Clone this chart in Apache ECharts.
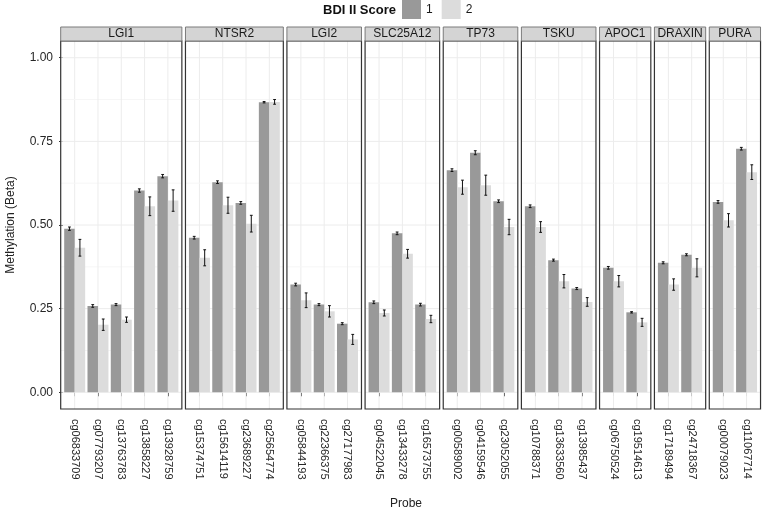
<!DOCTYPE html>
<html>
<head>
<meta charset="utf-8">
<script src="https://cdn.jsdelivr.net/npm/echarts@6/dist/echarts.min.js"></script>
<style>
  html, body { margin: 0; padding: 0; background: #fff; }
  #chart { width: 762px; height: 513px; }
</style>
</head>
<body>
<div id="chart"></div>
<script>
  // facets (genes) and their probes
  const genes = ['LGI1', 'NTSR2', 'LGI2', 'SLC25A12', 'TP73', 'TSKU', 'APOC1', 'DRAXIN', 'PURA'];
  const probes = [
    ['cg06833709', 'cg07793207', 'cg13763783', 'cg13858227', 'cg13928759'],
    ['cg15374751', 'cg15614119', 'cg23689227', 'cg25654774'],
    ['cg05844193', 'cg22366375', 'cg27177983'],
    ['cg04522045', 'cg13433278', 'cg16573755'],
    ['cg00589002', 'cg04159546', 'cg23052055'],
    ['cg10788371', 'cg13633560', 'cg13985437'],
    ['cg06750524', 'cg19514613'],
    ['cg17189494', 'cg24718367'],
    ['cg00079023', 'cg11067714']
  ];
  // mean methylation, BDI II score 1 / 2
  const score1 = [
    [0.489, 0.258, 0.262, 0.603, 0.646],
    [0.462, 0.628, 0.566, 0.867],
    [0.322, 0.262, 0.205],
    [0.269, 0.475, 0.262],
    [0.664, 0.716, 0.571],
    [0.556, 0.395, 0.310],
    [0.372, 0.239],
    [0.387, 0.411],
    [0.569, 0.728]
  ];
  const score2 = [
    [0.432, 0.202, 0.217, 0.556, 0.573],
    [0.402, 0.559, 0.504, 0.868],
    [0.275, 0.242, 0.158],
    [0.237, 0.414, 0.219],
    [0.613, 0.619, 0.494],
    [0.494, 0.332, 0.270],
    [0.332, 0.209],
    [0.322, 0.372],
    [0.514, 0.658]
  ];
  // standard errors
  const err1 = [
    [0.005, 0.004, 0.003, 0.005, 0.005],
    [0.004, 0.004, 0.004, 0.002],
    [0.004, 0.003, 0.003],
    [0.004, 0.004, 0.004],
    [0.004, 0.006, 0.004],
    [0.004, 0.003, 0.003],
    [0.004, 0.002],
    [0.003, 0.003],
    [0.004, 0.004]
  ];
  const err2 = [
    [0.025, 0.017, 0.008, 0.028, 0.032],
    [0.024, 0.024, 0.025, 0.007],
    [0.022, 0.017, 0.015],
    [0.009, 0.013, 0.011],
    [0.021, 0.030, 0.023],
    [0.016, 0.020, 0.013],
    [0.017, 0.012],
    [0.017, 0.027],
    [0.020, 0.022]
  ];
  const yTicks = [0, 0.25, 0.5, 0.75, 1];
  const yMinor = [0.125, 0.375, 0.625, 0.875];

  const FONT = '"Liberation Sans", Arial, sans-serif';
  const DARK = '#999999', LIGHT = '#dcdcdc';
  const U = 23.3, GAP = 3.6, X0 = 60.7, TOP = 41, H = 368;

  const chart = echarts.init(document.getElementById('chart'));

  const grids = [], xAxes = [], yAxes = [], series = [], graphics = [];
  let x = X0;

  function errorBars(i, means, errs, offset) {
    return {
      type: 'custom',
      xAxisIndex: i, yAxisIndex: i, z: 5,
      silent: true,
      data: means.map((m, j) => [j, m, errs[j]]),
      renderItem: function (params, api) {
        const band = api.size([1, 0])[0];
        const cx = api.coord([api.value(0), 0])[0] + offset * band;
        const m = api.value(1), e = api.value(2);
        const y1 = api.coord([0, m + e])[1];
        const y2 = api.coord([0, m - e])[1];
        const c = 1.4;
        const st = { stroke: '#111', lineWidth: 1 };
        return {
          type: 'group',
          children: [
            { type: 'line', shape: { x1: cx, y1: y1, x2: cx, y2: y2 }, style: st },
            { type: 'line', shape: { x1: cx - c, y1: y1, x2: cx + c, y2: y1 }, style: st },
            { type: 'line', shape: { x1: cx - c, y1: y2, x2: cx + c, y2: y2 }, style: st }
          ]
        };
      }
    };
  }

  genes.forEach(function (g, i) {
    const n = probes[i].length;
    const pw = (n + 0.2) * U;
    grids.push({ left: x + 0.1 * U, top: TOP, width: n * U, height: H });

    xAxes.push({
      type: 'category', gridIndex: i, data: probes[i],
      axisLine: { show: false },
      axisTick: { show: true, alignWithLabel: true, length: 4, lineStyle: { color: '#333' } },
      axisLabel: { rotate: -90, interval: 0, margin: 10, fontSize: 11, color: '#262626', fontFamily: FONT },
      splitLine: { show: false }
    });
    yAxes.push({
      type: 'value', gridIndex: i, min: -0.05, max: 1.05,
      name: i === 0 ? 'Methylation (Beta)' : '',
      nameLocation: 'middle', nameGap: 46,
      nameTextStyle: { fontSize: 12, color: '#222', fontFamily: FONT },
      axisLine: { show: false },
      axisTick: { show: i === 0, length: 4, lineStyle: { color: '#333' }, customValues: yTicks },
      axisLabel: { show: i === 0, customValues: yTicks, margin: 10, fontSize: 12, color: '#262626',
        fontFamily: FONT, formatter: v => v.toFixed(2) },
      splitLine: { show: false }
    });

    // background grid lines (major/minor horizontal, vertical at probes)
    series.push({
      type: 'custom', xAxisIndex: i, yAxisIndex: i, z: 1, silent: true,
      data: probes[i].map((p, j) => [j, 0]),
      renderItem: function (params, api) {
        const cs = params.coordSys;
        const cx = api.coord([api.value(0), 0])[0];
        const kids = [{ type: 'line', shape: { x1: cx, y1: cs.y, x2: cx, y2: cs.y + cs.height },
          style: { stroke: '#ececec', lineWidth: 1 } }];
        if (params.dataIndex === 0) {
          const l = cs.x - 0.1 * U, r = cs.x + cs.width + 0.1 * U;
          yMinor.forEach(function (v) {
            const yy = api.coord([0, v])[1];
            kids.push({ type: 'line', shape: { x1: l, y1: yy, x2: r, y2: yy }, style: { stroke: '#f6f6f6', lineWidth: 1 } });
          });
          yTicks.forEach(function (v) {
            const yy = api.coord([0, v])[1];
            kids.push({ type: 'line', shape: { x1: l, y1: yy, x2: r, y2: yy }, style: { stroke: '#ececec', lineWidth: 1 } });
          });
        }
        return { type: 'group', children: kids };
      }
    });

    series.push({
      name: '1', type: 'bar', xAxisIndex: i, yAxisIndex: i, z: 3,
      data: score1[i], barWidth: 0.45 * U, barGap: '0%',
      itemStyle: { color: DARK }
    });
    series.push({
      name: '2', type: 'bar', xAxisIndex: i, yAxisIndex: i, z: 3,
      data: score2[i], barWidth: 0.45 * U, barGap: '0%',
      itemStyle: { color: LIGHT }
    });
    series.push(errorBars(i, score1[i], err1[i], -0.225));
    series.push(errorBars(i, score2[i], err2[i], 0.225));

    // panel border and facet strip
    graphics.push({
      type: 'rect', z: 10, silent: true,
      shape: { x: x, y: TOP, width: pw, height: H },
      style: { fill: 'none', stroke: '#333', lineWidth: 1.2 }
    });
    graphics.push({
      type: 'rect', z: 10, silent: true,
      shape: { x: x, y: 27, width: pw, height: 14 },
      style: { fill: '#d4d4d4', stroke: '#7a7a7a', lineWidth: 1 }
    });
    graphics.push({
      type: 'text', z: 11, silent: true,
      x: x + pw / 2, y: 34,
      style: { text: g, fill: '#1a1a1a', font: '12px ' + FONT, align: 'center', verticalAlign: 'middle' }
    });

    x += pw + GAP;
  });

  graphics.push({
    type: 'text', x: 406, y: 504,
    style: { text: 'Probe', fill: '#222', font: '12px ' + FONT, align: 'center', verticalAlign: 'middle' }
  });
  graphics.push({
    type: 'text', x: 396, y: 10,
    style: { text: 'BDI II Score', fill: '#111', font: 'bold 13px ' + FONT, align: 'right', verticalAlign: 'middle' }
  });

  chart.setOption({
    animation: false,
    backgroundColor: '#fff',
    legend: {
      data: ['1', '2'], left: 402, top: 0, padding: 0,
      icon: 'rect', itemWidth: 19, itemHeight: 19, itemGap: 9,
      textStyle: { fontSize: 12, color: '#1a1a1a', fontFamily: FONT }
    },
    grid: grids,
    xAxis: xAxes,
    yAxis: yAxes,
    series: series,
    graphic: graphics
  });
</script>
</body>
</html>
